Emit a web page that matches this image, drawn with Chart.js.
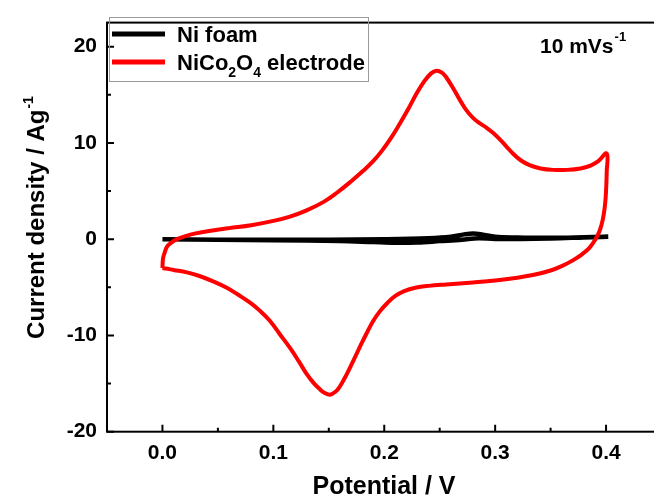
<!DOCTYPE html>
<html>
<head>
<meta charset="utf-8">
<script src="https://cdn.jsdelivr.net/npm/chart.js@4.4.0/dist/chart.umd.min.js"></script>
<style>
  html, body { margin: 0; padding: 0; background: #fff; overflow: hidden; }
  #wrap { width: 664px; height: 499px; }
</style>
</head>
<body>
<div id="wrap"><canvas id="cvChart" width="664" height="499"></canvas></div>
<script>
// axis ticks
const xTicks = [0.0, 0.1, 0.2, 0.3, 0.4];
const xMinorTicks = [0.05, 0.15, 0.25, 0.35];
const yTicks = [-20, -10, 0, 10, 20];
const yMinorTicks = [-15, -5, 5, 15];

// Ni foam CV loop (potential in V, current density in A/g)
const niFoamPotential = [0.000, 0.050, 0.100, 0.150, 0.200, 0.240, 0.260, 0.272, 0.280, 0.288, 0.300, 0.320, 0.350, 0.380, 0.402,
                         0.380, 0.350, 0.300, 0.285, 0.270, 0.250, 0.230, 0.210, 0.190, 0.160, 0.100, 0.050, 0.000];
const niFoamCurrent   = [0.00, -0.05, -0.05, -0.05, 0.00, 0.10, 0.25, 0.50, 0.60, 0.50, 0.25, 0.18, 0.15, 0.20, 0.25,
                         0.18, 0.08, 0.02, 0.10, -0.05, -0.20, -0.35, -0.38, -0.30, -0.18, -0.10, -0.05, 0.00];

// NiCo2O4 electrode CV loop
const nicoPotential = [0.000, 0.0005, 0.002, 0.004, 0.008, 0.013, 0.020, 0.030, 0.045, 0.060, 0.080, 0.100, 0.115, 0.130, 0.145,
                       0.157, 0.170, 0.181, 0.190, 0.198, 0.206, 0.214, 0.222, 0.229, 0.236, 0.242, 0.247, 0.252, 0.256, 0.262,
                       0.268, 0.274, 0.280, 0.286, 0.292, 0.298, 0.304, 0.310, 0.316, 0.323, 0.331, 0.341, 0.352, 0.365, 0.377,
                       0.386, 0.393, 0.4006,
                       0.4006, 0.400, 0.399, 0.397, 0.394, 0.390, 0.385, 0.378, 0.370, 0.360, 0.350, 0.335, 0.320, 0.300, 0.280,
                       0.256, 0.240, 0.228, 0.218, 0.210, 0.203, 0.196, 0.190, 0.184, 0.178, 0.173, 0.168, 0.164, 0.160, 0.156,
                       0.151, 0.146, 0.142, 0.136, 0.130, 0.123, 0.115, 0.106, 0.097, 0.088, 0.079, 0.068, 0.058, 0.046, 0.034,
                       0.022, 0.010, 0.003, 0.000];
const nicoCurrent   = [-3.0, -2.0, -1.4, -0.8, -0.35, 0.0, 0.3, 0.6, 0.9, 1.15, 1.45, 1.9, 2.35, 3.0, 3.85,
                       4.8, 6.0, 7.1, 8.1, 9.2, 10.5, 12.0, 13.6, 15.1, 16.4, 17.2, 17.5, 17.3, 16.8, 15.7,
                       14.5, 13.4, 12.6, 12.05, 11.6, 11.05, 10.4, 9.65, 8.9, 8.2, 7.7, 7.35, 7.2, 7.2, 7.35,
                       7.65, 8.1, 8.9,
                       7.0, 5.0, 3.5, 2.0, 0.8, -0.1, -0.9, -1.6, -2.2, -2.8, -3.25, -3.7, -4.0, -4.3, -4.5,
                       -4.7, -4.85, -5.05, -5.4, -5.9, -6.6, -7.5, -8.5, -9.8, -11.2, -12.4, -13.6, -14.5, -15.3, -15.85,
                       -16.15, -15.95, -15.6, -14.9, -14.0, -12.7, -11.3, -9.9, -8.5, -7.45, -6.6, -5.75, -5.05, -4.4, -3.85,
                       -3.45, -3.2, -3.05, -3.0];

const toPoints = (xs, ys) => xs.map((x, i) => ({ x: x, y: ys[i] }));

const FONT = '"Liberation Sans", Arial, sans-serif';

const decorPlugin = {
    id: 'decor',
    afterDraw(chart) {
        const ctx = chart.ctx;
        const area = chart.chartArea;
        const xs = chart.scales.x;
        const ys = chart.scales.y;
        ctx.save();

        // frame
        ctx.strokeStyle = '#000';
        ctx.lineWidth = 2;
        ctx.strokeRect(area.left, area.top, area.right - area.left, area.bottom - area.top);

        // inward ticks
        ctx.beginPath();
        xTicks.forEach(v => { const p = xs.getPixelForValue(v); ctx.moveTo(p, area.bottom); ctx.lineTo(p, area.bottom - 7); });
        xMinorTicks.forEach(v => { const p = xs.getPixelForValue(v); ctx.moveTo(p, area.bottom); ctx.lineTo(p, area.bottom - 4); });
        yTicks.forEach(v => { const p = ys.getPixelForValue(v); ctx.moveTo(area.left, p); ctx.lineTo(area.left + 7, p); });
        yMinorTicks.forEach(v => { const p = ys.getPixelForValue(v); ctx.moveTo(area.left, p); ctx.lineTo(area.left + 4, p); });
        ctx.stroke();

        ctx.fillStyle = '#000';
        ctx.textBaseline = 'alphabetic';

        // x title
        ctx.font = 'bold 25px ' + FONT;
        ctx.textAlign = 'center';
        ctx.fillText('Potential / V', 384, 494);

        // y title with superscript
        ctx.save();
        ctx.translate(44, 218);
        ctx.rotate(-Math.PI / 2);
        ctx.textAlign = 'left';
        ctx.font = 'bold 24px ' + FONT;
        const mainT = 'Current density / Ag';
        const w1 = ctx.measureText(mainT).width;
        ctx.font = 'bold 14px ' + FONT;
        const w2 = ctx.measureText('-1').width;
        const start = -(w1 + w2) / 2;
        ctx.font = 'bold 24px ' + FONT;
        ctx.fillText(mainT, start, 0);
        ctx.font = 'bold 14px ' + FONT;
        ctx.fillText('-1', start + w1 + 1, -11);
        ctx.restore();

        // scan rate note
        ctx.textAlign = 'left';
        ctx.font = 'bold 21px ' + FONT;
        ctx.fillText('10 mVs', 540, 53);
        const wn = ctx.measureText('10 mVs').width;
        ctx.font = 'bold 13px ' + FONT;
        ctx.fillText('-1', 540 + wn + 1, 41);

        // legend
        ctx.strokeStyle = '#999';
        ctx.lineWidth = 1;
        ctx.strokeRect(109.5, 17.5, 259, 64);
        const ds = chart.data.datasets;
        const rows = [
            { y: 34, parts: [['Ni foam', 0]] },
            { y: 62, parts: [['NiCo', 0], ['2', 1], ['O', 0], ['4', 1], [' electrode', 0]] }
        ];
        rows.forEach((row, i) => {
            ctx.strokeStyle = ds[i].borderColor;
            ctx.lineWidth = 5;
            ctx.beginPath();
            ctx.moveTo(112, row.y);
            ctx.lineTo(165, row.y);
            ctx.stroke();
            let x = 177;
            row.parts.forEach(([t, sub]) => {
                ctx.font = sub ? 'bold 14px ' + FONT : 'bold 22px ' + FONT;
                ctx.fillText(t, x, row.y + 8 + (sub ? 7 : 0));
                x += ctx.measureText(t).width;
            });
        });

        ctx.restore();
    }
};

new Chart(document.getElementById('cvChart').getContext('2d'), {
    type: 'scatter',
    data: {
        datasets: [
            {
                label: 'Ni foam',
                data: toPoints(niFoamPotential, niFoamCurrent),
                showLine: true,
                borderColor: '#000000',
                borderWidth: 4.5,
                pointRadius: 0,
                tension: 0.35,
                order: 2
            },
            {
                label: 'NiCo\u2082O\u2084 electrode',
                data: toPoints(nicoPotential, nicoCurrent),
                showLine: true,
                borderColor: '#ff0000',
                borderWidth: 4,
                pointRadius: 0,
                tension: 0.4,
                order: 1
            }
        ]
    },
    options: {
        responsive: false,
        animation: false,
        devicePixelRatio: 1,
        layout: { padding: { top: 17, right: 2.5, left: 0, bottom: 0 } },
        plugins: {
            legend: { display: false },
            tooltip: { enabled: false }
        },
        scales: {
            x: {
                type: 'linear',
                min: -0.05,
                max: 0.45,
                afterBuildTicks: s => { s.ticks = xTicks.map(v => ({ value: v })); },
                afterFit: s => { s.height = 499 - 431.7; },
                grid: { display: false, drawTicks: false },
                border: { display: false },
                ticks: {
                    padding: 9,
                    color: '#000',
                    font: { family: FONT, size: 21, weight: 'bold' },
                    callback: v => v.toFixed(1)
                }
            },
            y: {
                type: 'linear',
                min: -20,
                max: 22.5,
                afterBuildTicks: s => { s.ticks = yTicks.map(v => ({ value: v })); },
                afterFit: s => { s.width = 107; },
                grid: { display: false, drawTicks: false },
                border: { display: false },
                ticks: {
                    padding: 10,
                    color: '#000',
                    font: { family: FONT, size: 21, weight: 'bold' }
                }
            }
        }
    },
    plugins: [decorPlugin]
});
</script>
</body>
</html>
